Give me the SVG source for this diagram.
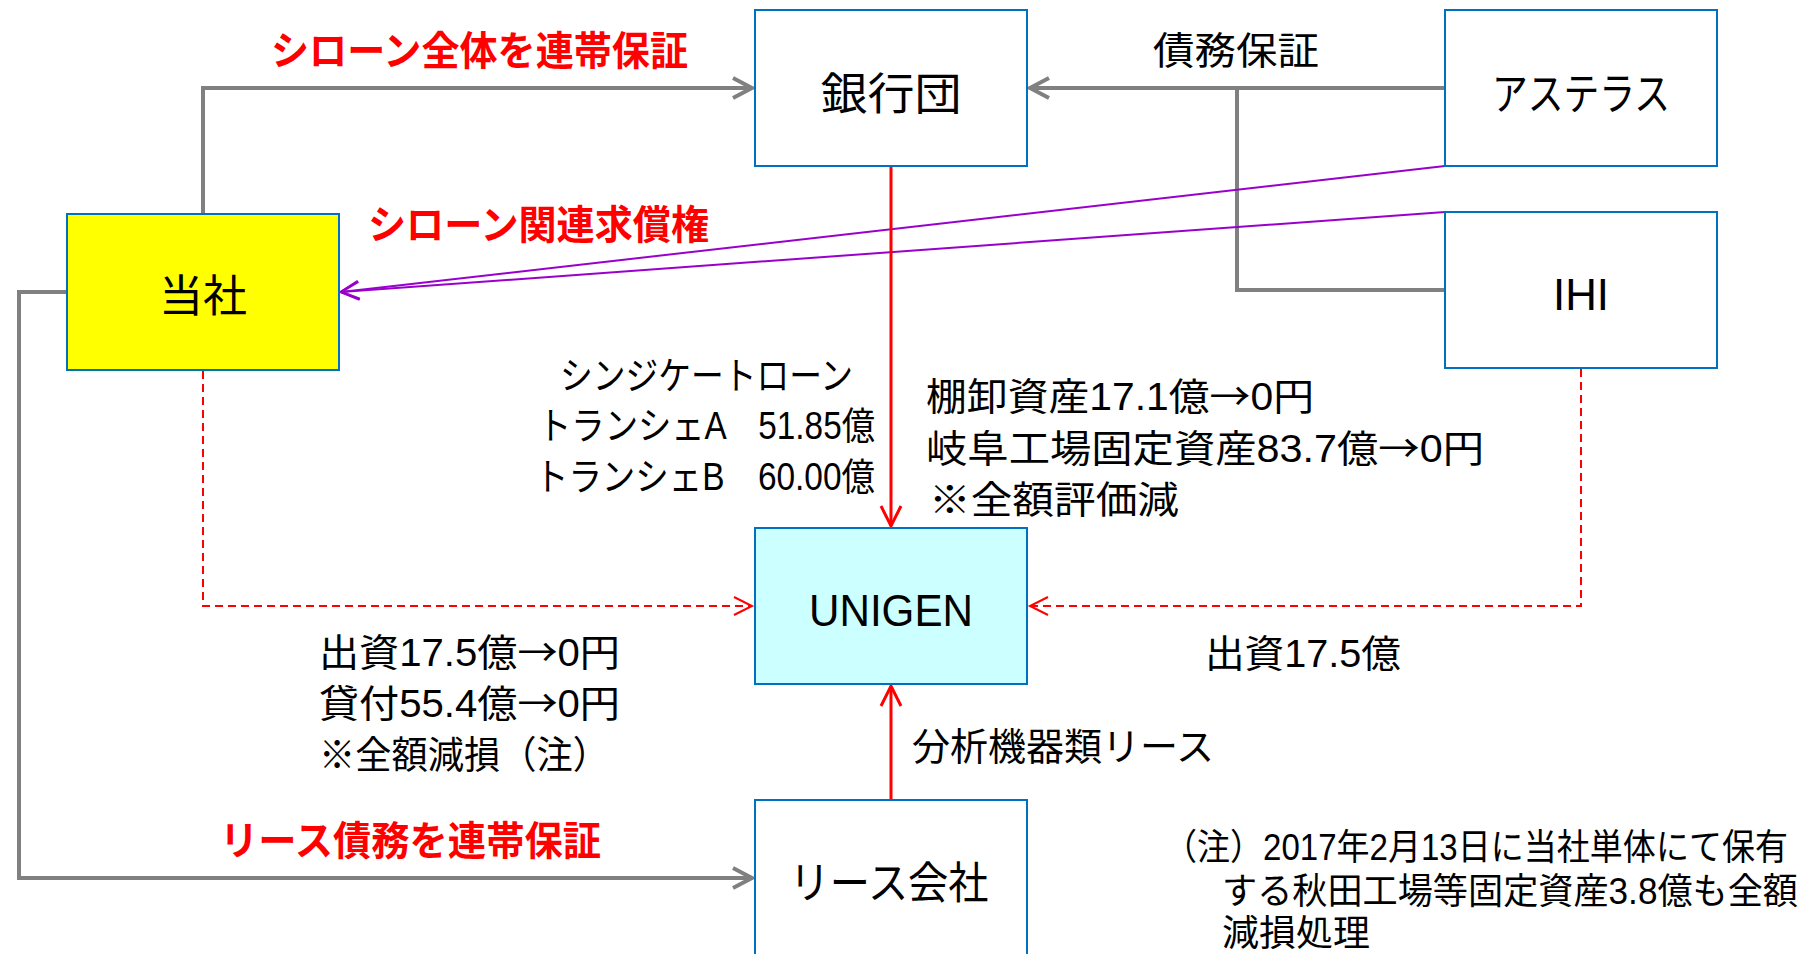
<svg xmlns="http://www.w3.org/2000/svg" width="1819" height="954" viewBox="0 0 1819 954">
<style>
.box{stroke:#0070C0;stroke-width:2;fill:#FFFFFF}
.t{font-family:"Liberation Sans","Noto Sans CJK JP",sans-serif;fill:#000000}
.lbl{font-size:44px;text-anchor:middle}
.txt{font-size:38px}
.note{font-size:36px}
.arw{font-family:"Noto Sans CJK JP",sans-serif}
.red{font-family:"Liberation Sans","Noto Sans CJK JP",sans-serif;fill:#FF0000;font-weight:bold;font-size:40px}
.gray{fill:none;stroke:#808080;stroke-width:4}
.pur{fill:none;stroke:#9900CC;stroke-width:2}
.rs{fill:none;stroke:#FF0000;stroke-width:3}
.rd{fill:none;stroke:#FF0000;stroke-width:2;stroke-dasharray:8 5}
</style>
<defs>
<marker id="ag" markerUnits="userSpaceOnUse" markerWidth="30" markerHeight="30" refX="0" refY="0" viewBox="-25 -15 30 30" orient="auto" overflow="visible"><path d="M-19,-10 L0,0 L-19,10" fill="none" stroke="#808080" stroke-width="4"/></marker>
<marker id="ap" markerUnits="userSpaceOnUse" markerWidth="30" markerHeight="30" refX="0" refY="0" viewBox="-25 -15 30 30" orient="auto" overflow="visible"><path d="M-18,-9 L0,0 L-18,9" fill="none" stroke="#9900CC" stroke-width="2.5"/></marker>
<marker id="ar" markerUnits="userSpaceOnUse" markerWidth="30" markerHeight="30" refX="0" refY="0" viewBox="-25 -15 30 30" orient="auto" overflow="visible"><path d="M-20,-10 L0,0 L-20,10" fill="none" stroke="#FF0000" stroke-width="3"/></marker>
<marker id="ad" markerUnits="userSpaceOnUse" markerWidth="30" markerHeight="30" refX="0" refY="0" viewBox="-25 -15 30 30" orient="auto" overflow="visible"><path d="M-18,-9 L0,0 L-18,9" fill="none" stroke="#FF0000" stroke-width="2"/></marker>
</defs>
<rect width="1819" height="954" fill="#FFFFFF"/>
<g id="connectors">
<path class="gray" d="M203,214 V88 H752" marker-end="url(#ag)"/>
<path class="gray" d="M1445,88 H1030" marker-end="url(#ag)"/>
<path class="gray" d="M1237,88 V290 H1445"/>
<path class="gray" d="M67,292 H19 V878 H752" marker-end="url(#ag)"/>
<path class="pur" d="M1445,166 L341,292" marker-end="url(#ap)"/>
<path class="pur" d="M1445,212 L341,292" marker-end="url(#ap)"/>
<path class="rs" d="M891,167 V526" marker-end="url(#ar)"/>
<path class="rs" d="M891,800 V686" marker-end="url(#ar)"/>
<path class="rd" d="M203,371 V606 H752" marker-end="url(#ad)"/>
<path class="rd" d="M1581,369 V606 H1030" marker-end="url(#ad)"/>
</g>
<g id="bank"><rect class="box" x="755" y="10" width="272" height="156"/><text class="t lbl" x="891" y="110" textLength="141" lengthAdjust="spacingAndGlyphs">銀行団</text></g>
<g id="tousha"><rect class="box" x="67" y="214" width="272" height="156" style="fill:#FFFF00"/><text class="t lbl" x="203" y="312" textLength="88" lengthAdjust="spacingAndGlyphs">当社</text></g>
<g id="astellas"><rect class="box" x="1445" y="10" width="272" height="156"/><text class="t lbl" x="1581" y="110" textLength="178" lengthAdjust="spacingAndGlyphs">アステラス</text></g>
<g id="ihi"><rect class="box" x="1445" y="212" width="272" height="156"/><text class="t lbl" x="1581" y="310" textLength="56" lengthAdjust="spacingAndGlyphs">IHI</text></g>
<g id="unigen"><rect class="box" x="755" y="528" width="272" height="156" style="fill:#CCFFFF"/><text class="t lbl" x="891" y="626" textLength="164" lengthAdjust="spacingAndGlyphs">UNIGEN</text></g>
<g id="lease"><rect class="box" x="755" y="800" width="272" height="156"/><text class="t lbl" x="889" y="899" textLength="199" lengthAdjust="spacingAndGlyphs">リース会社</text></g>
<g id="labels">
<text class="red" x="271" y="65" textLength="417" lengthAdjust="spacingAndGlyphs">シローン全体を連帯保証</text>
<text class="red" x="368" y="239" textLength="341" lengthAdjust="spacingAndGlyphs">シローン関連求償権</text>
<text class="red" x="220" y="855" textLength="381" lengthAdjust="spacingAndGlyphs">リース債務を連帯保証</text>
<text class="t txt" x="1153" y="64" textLength="166" lengthAdjust="spacingAndGlyphs">債務保証</text>
<text class="t txt" x="560" y="389" textLength="293" lengthAdjust="spacingAndGlyphs">シンジケートローン</text>
<text class="t txt" x="538" y="439" textLength="337" lengthAdjust="spacingAndGlyphs">トランシェA　51.85億</text>
<text class="t txt" x="535" y="490" textLength="340" lengthAdjust="spacingAndGlyphs">トランシェB　60.00億</text>
<text class="t txt" x="926" y="410" textLength="388" lengthAdjust="spacingAndGlyphs">棚卸資産17.1億<tspan class="arw">→</tspan>0円</text>
<text class="t txt" x="926" y="462" textLength="558" lengthAdjust="spacingAndGlyphs">岐阜工場固定資産83.7億<tspan class="arw">→</tspan>0円</text>
<text class="t txt" x="929" y="513" textLength="250" lengthAdjust="spacingAndGlyphs">※全額評価減</text>
<text class="t txt" x="319" y="666" textLength="301" lengthAdjust="spacingAndGlyphs">出資17.5億<tspan class="arw">→</tspan>0円</text>
<text class="t txt" x="319" y="717" textLength="301" lengthAdjust="spacingAndGlyphs">貸付55.4億<tspan class="arw">→</tspan>0円</text>
<text class="t txt" x="319" y="768" textLength="290" lengthAdjust="spacingAndGlyphs">※全額減損（注）</text>
<text class="t txt" x="1205" y="667" textLength="196" lengthAdjust="spacingAndGlyphs">出資17.5億</text>
<text class="t txt" x="912" y="760" textLength="302" lengthAdjust="spacingAndGlyphs">分析機器類リース</text>
<text class="t note" x="1164" y="860" textLength="624" lengthAdjust="spacingAndGlyphs">（注）2017年2月13日に当社単体にて保有</text>
<text class="t note" x="1222" y="904" textLength="576" lengthAdjust="spacingAndGlyphs">する秋田工場等固定資産3.8億も全額</text>
<text class="t note" x="1222" y="946" textLength="148" lengthAdjust="spacingAndGlyphs">減損処理</text>
</g>
</svg>
